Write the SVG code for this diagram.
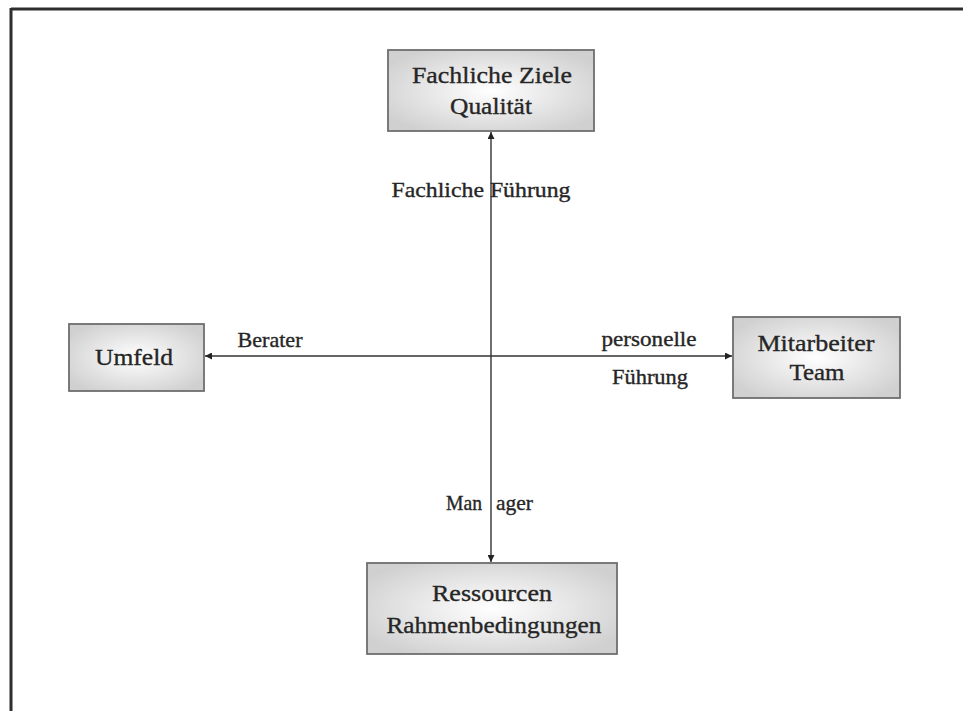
<svg xmlns="http://www.w3.org/2000/svg" width="963" height="711" viewBox="0 0 963 711">
<defs>
<radialGradient id="g" cx="50%" cy="50%" r="60%">
<stop offset="0" stop-color="#ffffff"/>
<stop offset="1" stop-color="#d0d0d0"/>
</radialGradient>
<marker id="ah" viewBox="0 0 10 10" refX="10" refY="5" markerWidth="7" markerHeight="7" markerUnits="userSpaceOnUse" orient="auto-start-reverse">
<path d="M0,0 L10,5 L0,10 z" fill="#222"/>
</marker>
<style>
.box{fill:url(#g);stroke:#6e6e6e;stroke-width:1.8}
.t{font-family:"Liberation Serif","Times New Roman",serif;fill:#262626;stroke:#262626;stroke-width:0.35;text-anchor:middle}
.bt{font-size:23.5px}
.lt{font-size:21px}
.c{stroke:#333;stroke-width:1.4;fill:none}
</style>
</defs>
<rect x="0" y="0" width="963" height="711" fill="#ffffff"/>
<g id="frame">
<line x1="11" y1="9" x2="963" y2="9" stroke="#2e2e2e" stroke-width="3"/>
<line x1="11" y1="8" x2="11" y2="711" stroke="#2e2e2e" stroke-width="3"/>
</g>
<g id="connectors">
<line class="c" x1="491" y1="132" x2="491" y2="562" marker-start="url(#ah)" marker-end="url(#ah)"/>
<line class="c" x1="205" y1="356" x2="732" y2="356" marker-start="url(#ah)" marker-end="url(#ah)"/>
<text class="t lt" x="481" y="197" textLength="179" lengthAdjust="spacingAndGlyphs">Fachliche Führung</text>
<text class="t lt" x="270" y="347" textLength="65" lengthAdjust="spacingAndGlyphs">Berater</text>
<text class="t lt" x="649" y="346" textLength="95" lengthAdjust="spacingAndGlyphs">personelle</text>
<text class="t lt" x="650" y="384" textLength="76" lengthAdjust="spacingAndGlyphs">Führung</text>
<text class="t lt" y="510" style="text-anchor:start"><tspan x="446" textLength="36" lengthAdjust="spacingAndGlyphs">Man</tspan><tspan x="496" textLength="37" lengthAdjust="spacingAndGlyphs">ager</tspan></text>
</g>
<g id="node-fachliche-ziele">
<rect class="box" x="388" y="50" width="206" height="81"/>
<text class="t bt" x="492" y="83" textLength="160" lengthAdjust="spacingAndGlyphs">Fachliche Ziele</text>
<text class="t bt" x="491" y="114" textLength="82" lengthAdjust="spacingAndGlyphs">Qualität</text>
</g>
<g id="node-umfeld">
<rect class="box" x="69" y="324" width="135" height="67"/>
<text class="t bt" x="134" y="365" textLength="78" lengthAdjust="spacingAndGlyphs">Umfeld</text>
</g>
<g id="node-mitarbeiter">
<rect class="box" x="733" y="317" width="167" height="81"/>
<text class="t bt" x="816" y="351" textLength="117" lengthAdjust="spacingAndGlyphs">Mitarbeiter</text>
<text class="t bt" x="817" y="380" textLength="55" lengthAdjust="spacingAndGlyphs">Team</text>
</g>
<g id="node-ressourcen">
<rect class="box" x="367" y="563" width="250" height="91"/>
<text class="t bt" x="492" y="601" textLength="120" lengthAdjust="spacingAndGlyphs">Ressourcen</text>
<text class="t bt" x="494" y="633" textLength="215" lengthAdjust="spacingAndGlyphs">Rahmenbedingungen</text>
</g>
</svg>
